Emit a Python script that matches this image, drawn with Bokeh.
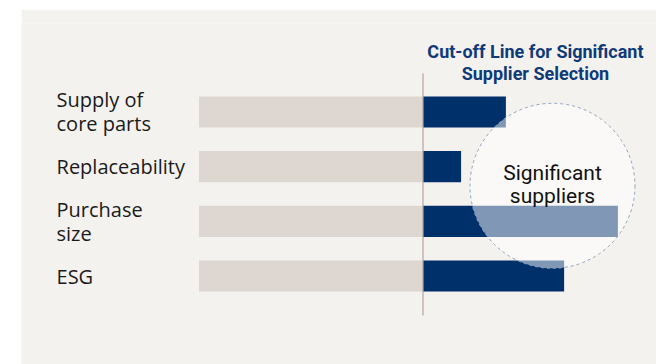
from bokeh.plotting import figure
from bokeh.models import Range1d, FactorRange, ColumnDataSource, Spacer
from bokeh.layouts import column, row
from bokeh.core.properties import value
from bokeh.embed import file_html
from bokeh.resources import INLINE

# ---- data ----
categories = ["Supply of core parts", "Replaceability", "Purchase size", "ESG"]
labels = ["Supply of\ncore parts", "Replaceability", "Purchase\nsize", "ESG"]
baseline = [100, 100, 100, 100]          # grey (below cut-off) part
scores = [37, 17, 87, 63]                # navy part beyond cut-off
cutoff = 0
title_text = "Cut-off Line for Significant\nSupplier Selection"
highlight_text = "Significant\nsuppliers"

PANEL = "#F4F2EF"
GREY = "#DDD6D1"
NAVY = "#00306A"

p = figure(width=635, height=355, output_backend="svg", toolbar_location=None,
           title=None, x_axis_location=None, y_axis_location=None,
           x_range=Range1d(-179.24, 104.24),
           y_range=FactorRange(factors=categories[::-1], range_padding=1.1185,
                               range_padding_units="absolute"),
           min_border_left=0, min_border_right=0, min_border_top=14,
           min_border_bottom=0)
p.background_fill_color = PANEL
p.border_fill_color = PANEL
p.outline_line_color = None
p.grid.visible = False

src = ColumnDataSource(dict(
    cat=categories,
    left=[cutoff - b for b in baseline],
    zero=[cutoff] * len(categories),
    right=[cutoff + s for s in scores],
    lab=labels,
    labx=[cutoff - 163.6] * len(categories),
))

p.hbar(y="cat", left="left", right="zero", height=0.57, source=src,
       fill_color=GREY, line_color=None)
p.hbar(y="cat", left="zero", right="right", height=0.57, source=src,
       fill_color=NAVY, line_color=None)

# cut-off line
p.segment(x0=[cutoff], x1=[cutoff],
          y0=[(categories[0], 0.71)], y1=[(categories[-1], -0.72)],
          line_color="#B3A496", line_width=1.2)

# highlight circle
p.scatter(x=[57.8], y=[(categories[1], -0.35)], size=165, marker="circle",
          fill_color="white", fill_alpha=0.5, line_color="#8FA2BF",
          line_dash="3 3", line_width=1)

p.text(x=[57.8], y=[(categories[1], -0.32)], text=[highlight_text],
       text_font=value("Roboto"), text_font_size="21px", text_color="#111111",
       text_align="center", text_baseline="middle", text_line_height=0.97)

# category labels
p.text(x="labx", y="cat", text="lab", source=src,
       text_font=value("Open Sans"), text_font_size="20px", text_color="#1A1A1A",
       text_align="left", text_baseline="middle", text_line_height=0.89)

# title of cut-off line
p.text(x=[50.2], y=[(categories[0], 0.9)], text=[title_text],
       text_font=value("Roboto"), text_font_size="18px", text_font_style="bold",
       text_color="#0F3A78", text_align="center", text_baseline="middle",
       text_line_height=1.04)

layout = column(Spacer(height=9), row(Spacer(width=21), p))
open("out.html", "w").write(file_html(layout, INLINE))
